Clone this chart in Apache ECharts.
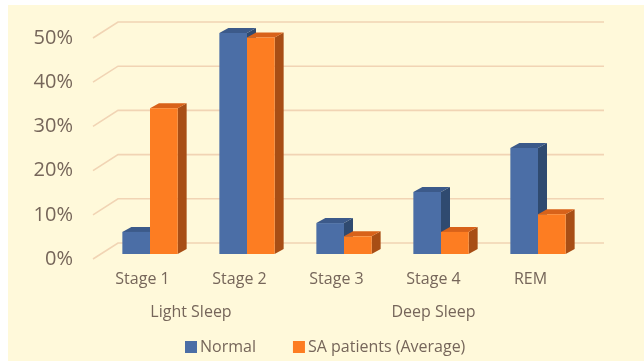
<!DOCTYPE html>
<html>
<head>
<meta charset="utf-8">
<script src="https://cdn.jsdelivr.net/npm/echarts@6/dist/echarts.min.js"></script>
<style>
  html, body { margin: 0; padding: 0; background: #ffffff; }
  #chart { width: 644px; height: 361px; }
</style>
</head>
<body>
<div id="chart"></div>
<script>
// Sleep stage distribution: normal sleepers vs. sleep apnea patients (%)
const categories = ['Stage 1', 'Stage 2', 'Stage 3', 'Stage 4', 'REM'];
const normalValues = [5, 50, 7, 14, 24];
const saValues = [33, 49, 4, 5, 9];
const yTicks = [0, 10, 20, 30, 40, 50];
const groupNames = ['Light Sleep', 'Deep Sleep'];
const groupFirst = [0, 2];
const groupLast = [1, 4];

const textColor = '#76665a';
const fontFamily = '"Open Sans", "Noto Sans", sans-serif';

// 3D bar depth (px) and the floor/back-wall depth of the plot box
const BAR_DX = 9, BAR_DY = -5;
const WALL_DX = 24, WALL_DY = -16;

const palette = {
  normal: { front: '#4b6ea6', top: '#3c5a8a', side: '#2f4a70' },
  sa:     { front: '#fd7d22', top: '#d8621a', side: '#a84e15' }
};

function barRenderer(colors, leftOfCenter) {
  return function (params, api) {
    const idx = api.value(0);
    const v = api.value(1);
    const top = api.coord([idx, v]);
    const base = api.coord([idx, 0]);
    const band = api.size([1, 0])[0];
    const w = band * 0.285;
    const x0 = leftOfCenter ? top[0] - w : top[0];
    const x1 = x0 + w;
    const yt = top[1], yb = base[1];
    return {
      type: 'group',
      children: [
        { type: 'polygon', shape: { points: [[x1, yt], [x1 + BAR_DX, yt + BAR_DY], [x1 + BAR_DX, yb + BAR_DY], [x1, yb]] },
          style: { fill: colors.side } },
        { type: 'polygon', shape: { points: [[x0, yt], [x0 + BAR_DX, yt + BAR_DY], [x1 + BAR_DX, yt + BAR_DY], [x1, yt]] },
          style: { fill: colors.top } },
        { type: 'rect', shape: { x: x0, y: yt, width: w, height: yb - yt },
          style: { fill: colors.front } }
      ]
    };
  };
}

const chart = echarts.init(document.getElementById('chart'), null, { renderer: 'canvas' });

chart.setOption({
  backgroundColor: '#ffffff',
  animation: false,
  graphic: [{
    type: 'rect', z: -10, silent: true,
    shape: { x: 8, y: 5, width: 640, height: 360 },
    style: { fill: '#fff9da' }
  }],
  grid: [
    // plane of the bar fronts
    { left: 101.5, width: 485, top: 33, height: 221 },
    // front edge of the floor, carries the axis labels
    { left: 94, width: 485, top: 38, height: 221 }
  ],
  xAxis: [
    { type: 'category', gridIndex: 0, data: categories, show: false },
    { type: 'category', gridIndex: 1, data: categories,
      axisLine: { show: false }, axisTick: { show: false }, splitLine: { show: false },
      axisLabel: { color: textColor, fontFamily: fontFamily, fontSize: 16, margin: 12 } }
  ],
  yAxis: [
    { type: 'value', gridIndex: 0, min: 0, max: 50, interval: 10, show: false },
    { type: 'value', gridIndex: 1, min: 0, max: 50, interval: 10,
      axisLine: { show: false }, axisTick: { show: false }, splitLine: { show: false },
      axisLabel: { color: textColor, fontFamily: fontFamily, fontSize: 20, margin: 21, formatter: '{value}%' } }
  ],
  legend: {
    left: 185, top: 339, padding: 0,
    icon: 'rect', itemWidth: 12, itemHeight: 12, itemGap: 37,
    textStyle: { color: textColor, fontFamily: fontFamily, fontSize: 16, padding: [0, 0, 0, -2] },
    data: ['Normal', 'SA patients (Average)']
  },
  series: [
    {
      // floor diagonals and back-wall gridlines
      type: 'custom', xAxisIndex: 1, yAxisIndex: 1, silent: true, z: 1,
      data: yTicks.map(t => [0, t]),
      renderItem: function (params, api) {
        const p = api.coord([0, api.value(1)]);
        const cs = params.coordSys;
        return {
          type: 'polyline',
          shape: { points: [[cs.x - 1, p[1]], [cs.x + WALL_DX, p[1] + WALL_DY], [cs.x + cs.width + WALL_DX + 1, p[1] + WALL_DY]] },
          style: { stroke: '#f1d4b4', lineWidth: 1.6, fill: null }
        };
      }
    },
    {
      name: 'Normal', type: 'custom', xAxisIndex: 0, yAxisIndex: 0, z: 2,
      itemStyle: { color: palette.normal.front },
      data: normalValues.map((v, i) => [i, v]),
      renderItem: barRenderer(palette.normal, true)
    },
    {
      name: 'SA patients (Average)', type: 'custom', xAxisIndex: 0, yAxisIndex: 0, z: 3,
      itemStyle: { color: palette.sa.front },
      data: saValues.map((v, i) => [i, v]),
      renderItem: barRenderer(palette.sa, false)
    },
    {
      // group captions under the stage labels
      type: 'custom', xAxisIndex: 1, yAxisIndex: 1, silent: true, z: 4,
      data: groupNames.map((n, i) => [groupFirst[i], groupLast[i]]),
      renderItem: function (params, api) {
        const a = api.coord([api.value(0), 0]);
        const b = api.coord([api.value(1), 0]);
        return {
          type: 'text',
          style: {
            x: (a[0] + b[0]) / 2, y: a[1] + 53,
            text: groupNames[params.dataIndex],
            fill: textColor, font: '16px ' + fontFamily,
            align: 'center', verticalAlign: 'middle'
          }
        };
      }
    }
  ]
});
</script>
</body>
</html>
